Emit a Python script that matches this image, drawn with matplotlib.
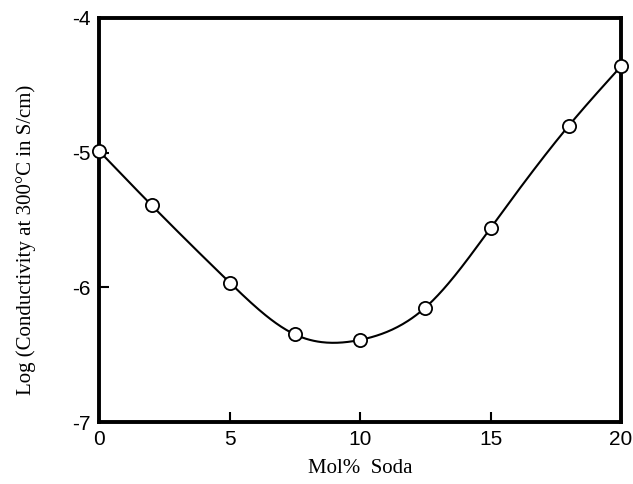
import numpy as np
import matplotlib
matplotlib.use("Agg")
import matplotlib.pyplot as plt

mol_soda = [0, 2, 5, 7.5, 10, 12.5, 15, 18, 20]
log_cond = [-4.99, -5.39, -5.965, -6.35, -6.39, -6.15, -5.56, -4.80, -4.36]
x_ticks = [0, 5, 10, 15, 20]
y_ticks = [-7, -6, -5, -4]


def natural_spline(x, y, xs):
    x = np.asarray(x, float)
    y = np.asarray(y, float)
    n = len(x)
    h = np.diff(x)
    A = np.zeros((n, n))
    b = np.zeros(n)
    A[0, 0] = A[-1, -1] = 1
    for i in range(1, n - 1):
        A[i, i - 1] = h[i - 1]
        A[i, i] = 2 * (h[i - 1] + h[i])
        A[i, i + 1] = h[i]
        b[i] = 3 * ((y[i + 1] - y[i]) / h[i] - (y[i] - y[i - 1]) / h[i - 1])
    c = np.linalg.solve(A, b)
    out = np.empty_like(xs)
    for k, xv in enumerate(xs):
        i = min(max(np.searchsorted(x, xv) - 1, 0), n - 2)
        d = (c[i + 1] - c[i]) / (3 * h[i])
        bb = (y[i + 1] - y[i]) / h[i] - h[i] * (2 * c[i] + c[i + 1]) / 3
        t = xv - x[i]
        out[k] = y[i] + bb * t + c[i] * t ** 2 + d * t ** 3
    return out


plt.rcParams['font.family'] = ['Liberation Serif', 'DejaVu Serif']
plt.rcParams['axes.unicode_minus'] = False
fig = plt.figure(figsize=(6.33, 4.84), dpi=100)
ax = fig.add_axes([0.157, 0.128, 0.824, 0.835])

xs = np.linspace(mol_soda[0], mol_soda[-1], 400)
ax.plot(xs, natural_spline(mol_soda, log_cond, xs), color='black', lw=1.5, zorder=2)
ax.plot(mol_soda, log_cond, 'o', ms=9.5, mfc='white', mec='black', mew=1.3,
        zorder=3, clip_on=False)

ax.set_xlim(0, 20)
ax.set_ylim(-7, -4)
ax.set_xticks(x_ticks)
ax.set_yticks(y_ticks)
ax.tick_params(direction='in', length=7, width=1.5, labelsize=15, pad=6)
for lab in ax.get_xticklabels() + ax.get_yticklabels():
    lab.set_family(['Liberation Sans', 'DejaVu Sans'])
for s in ax.spines.values():
    s.set_linewidth(2.8)
ax.set_xlabel('Mol%  Soda', fontsize=15, labelpad=7)
ax.set_ylabel('Log (Conductivity at 300°C in S/cm)', fontsize=15, labelpad=26)
ax.yaxis.label.set_y(0.45)

fig.savefig('out.png', dpi=100)
